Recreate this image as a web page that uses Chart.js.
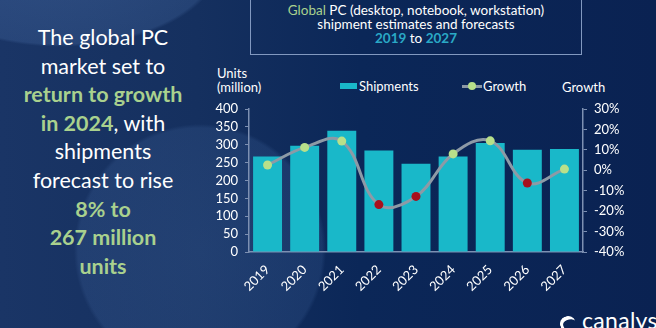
<!DOCTYPE html>
<html>
<head>
<meta charset="utf-8">
<script src="https://cdn.jsdelivr.net/npm/chart.js@4"></script>
<style>
  html, body { margin:0; padding:0; }
  body { width:656px; height:328px; overflow:hidden; position:relative;
    font-family: Lato, "Open Sans", sans-serif;
    background:
      radial-gradient(circle at 200px 250px, rgba(80,120,180,0.22) 0, rgba(80,120,180,0.18) 122px, rgba(80,120,180,0) 126px),
      radial-gradient(ellipse 260px 140px at 60px -40px, rgba(90,130,190,0.32) 0, rgba(90,130,190,0.22) 60%, rgba(0,0,0,0) 62%),
      linear-gradient(90deg, #1a3566 0%, #15305f 30%, #0b2758 55%, #0a2252 100%);
  }
  #chartWrap { position:absolute; left:0; top:0; width:656px; height:328px; }
  .lefttext { position:absolute; left:0; top:23px; width:206px; text-align:center; color:#fff;
    font-size:21.5px; line-height:28.6px; font-family: Lato, sans-serif; }
  .g { color:#a9d18e; font-weight:bold; }
  .titlebox { position:absolute; left:250px; top:-3px; width:332px; height:58px; border:1px solid #8299c0;
    color:#fff; text-align:center; font-size:13.5px; line-height:14px; padding-top:5px; box-sizing:border-box; }
  .tg { color:#a9d18e; }
  .tb { color:#2aa9c6; font-weight:bold; }
  .lbl { position:absolute; color:#fff; font-size:13px; line-height:14px; }
  .sw { position:absolute; background:#19b8c9; }
  .logo { position:absolute; left:582px; top:306px; color:#fff; font-size:23px; letter-spacing:0.3px; }
  .icon { position:absolute; left:560px; top:316px; width:16px; height:16px; border-radius:50%;
    border-top:4px solid #fff; border-left:3px solid #fff; box-sizing:border-box; transform:rotate(-20deg); }
</style>
</head>
<body>
<div class="lefttext">The global PC<br>market set to<br><span class="g">return to growth</span><br><span class="g">in 2024</span>, with<br>shipments<br>forecast to rise<br><span class="g">8% to</span><br><span class="g">267 million</span><br><span class="g">units</span></div>
<div class="titlebox"><span class="tg">Global</span> PC (desktop, notebook, workstation)<br>shipment estimates and forecasts<br><span class="tb">2019</span> to <span class="tb">2027</span></div>
<div class="lbl" style="left:217px; top:66px;">Units<br>(million)</div>
<div class="sw" style="left:340px; top:83px; width:17px; height:6px;"></div>
<div class="lbl" style="left:359px; top:79px;">Shipments</div>
<div class="sw" style="left:462px; top:85px; width:20px; height:3px; background:#8d9aa6;"></div>
<div class="sw" style="left:468px; top:82px; width:8px; height:8px; border-radius:50%; background:#b8e08a;"></div>
<div class="lbl" style="left:483px; top:79px;">Growth</div>
<div class="lbl" style="left:562px; top:80px;">Growth</div>
<div class="icon"></div>
<div class="logo">canalys</div>
<div id="chartWrap"><canvas id="c" width="656" height="328"></canvas></div>
<script>
const years = ['2019','2020','2021','2022','2023','2024','2025','2026','2027'];
const shipments = [267, 297, 339, 284, 247, 267, 305, 286, 288];
const growth = [2.6, 11.2, 14.3, -16.8, -12.8, 8.0, 14.4, -6.2, 0.6];
const leftTicks = [0, 50, 100, 150, 200, 250, 300, 350, 400];
const rightTicks = [-40, -30, -20, -10, 0, 10, 20, 30];

const axisColor = '#7d90b2';
Chart.defaults.font.family = 'Lato, "Open Sans", sans-serif';

new Chart(document.getElementById('c'), {
  data: {
    labels: years,
    datasets: [
      { type:'line', label:'Growth', data: growth, yAxisID:'y1', order:0,
        borderColor:'#8d9aa6', borderWidth:3, tension:0.4,
        pointRadius:4.5, pointHoverRadius:4.5, pointBorderWidth:0,
        pointBackgroundColor: growth.map(v => v >= 0 ? '#b8e08a' : '#a8101c') },
      { type:'bar', label:'Shipments', data: shipments, yAxisID:'y', order:1,
        backgroundColor:'#19b8c9', categoryPercentage:1.0, barPercentage:0.78 }
    ]
  },
  options: {
    responsive:false, animation:false,
    layout: { padding: { left:200, top:109, right:0, bottom:0 } },
    plugins: { legend:{display:false}, tooltip:{enabled:false} },
    scales: {
      x: {
        grid:{ display:false },
        border:{ display:true, color:axisColor, width:1.5 },
        ticks:{ color:'#fff', font:{size:13}, maxRotation:45, minRotation:45, padding:2, autoSkip:false },
        afterFit: s => { s.height = 76; }
      },
      y: {
        position:'left', min:0, max:400,
        afterBuildTicks: s => { s.ticks = leftTicks.map(v => ({value:v})); },
        grid:{ drawOnChartArea:false, drawTicks:true, tickLength:4, color:axisColor },
        border:{ display:true, color:axisColor, width:1.5 },
        ticks:{ color:'#fff', font:{size:13}, padding:7, autoSkip:false },
        afterFit: s => { s.width = 49; }
      },
      y1: {
        position:'right', min:-40, max:30,
        afterBuildTicks: s => { s.ticks = rightTicks.map(v => ({value:v})); },
        grid:{ drawOnChartArea:false, drawTicks:true, tickLength:4, color:axisColor },
        border:{ display:true, color:axisColor, width:1.5 },
        ticks:{ color:'#fff', font:{size:13}, padding:7, autoSkip:false, callback: v => v + '%' },
        afterFit: s => { s.width = 73; }
      }
    }
  }
});
</script>
</body>
</html>
